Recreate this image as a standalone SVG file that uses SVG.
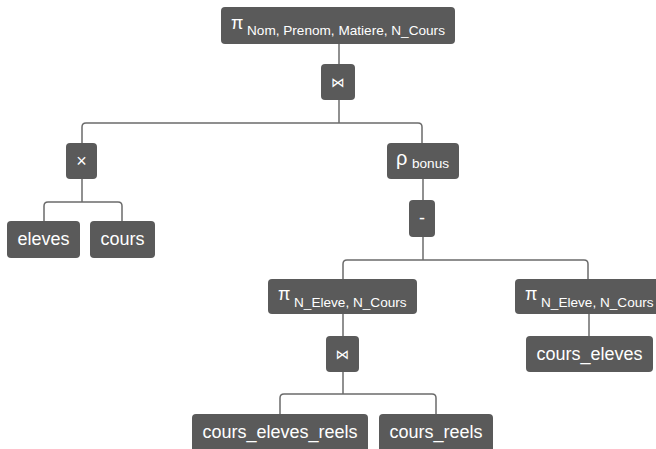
<svg xmlns="http://www.w3.org/2000/svg" width="656" height="449" viewBox="0 0 656 449">
  <style>
    .box { fill: #5a5a5a; }
    .lbl { fill: #ffffff; font-family: "Liberation Sans", Arial, sans-serif; font-size: 18px; }
    .mid { text-anchor: middle; }
    .op { fill: #ffffff; font-family: "Liberation Sans", Arial, sans-serif; font-size: 18px; }
    .sub { font-size: 13.6px; }
    .sym { fill: #ffffff; font-family: "DejaVu Sans", sans-serif; font-size: 13.5px; text-anchor: middle; }
    .edge { fill: none; stroke: #6b6b6b; stroke-width: 1.5; }
  </style>

  <!-- connectors -->
  <g id="edges">
    <path class="edge" d="M339,44 V64"/>
    <path class="edge" d="M339,100 V123"/>
    <path class="edge" d="M82,143 V127 Q82,123 86,123 H418 Q422,123 422,127 V143"/>
    <path class="edge" d="M82,179 V202"/>
    <path class="edge" d="M44,221 V206 Q44,202 48,202 H118 Q122,202 122,206 V221"/>
    <path class="edge" d="M423,179 V200"/>
    <path class="edge" d="M423,237 V260"/>
    <path class="edge" d="M343,279 V264 Q343,260 347,260 H584 Q588,260 588,264 V279"/>
    <path class="edge" d="M343,314 V336"/>
    <path class="edge" d="M589,314 V336"/>
    <path class="edge" d="M343,372 V394"/>
    <path class="edge" d="M280,414 V398 Q280,394 284,394 H432 Q436,394 436,398 V414"/>
  </g>

  <!-- projection on Nom, Prenom, Matiere, N_Cours -->
  <g id="proj_top">
    <rect class="box" x="221" y="7" width="234" height="37" rx="4"/>
    <text class="op" x="231" y="29">π<tspan class="sub" x="247" y="35">Nom, Prenom, Matiere, N_Cours</tspan></text>
  </g>

  <!-- natural join -->
  <g id="join_top">
    <rect class="box" x="321" y="64" width="34" height="36" rx="4"/>
    <text class="sym" x="338" y="87">⋈</text>
  </g>

  <!-- cartesian product -->
  <g id="product">
    <rect class="box" x="66" y="143" width="31" height="36" rx="4"/>
    <text class="lbl mid" x="81.5" y="167">×</text>
  </g>

  <!-- rename to bonus -->
  <g id="rename">
    <rect class="box" x="387" y="143" width="72" height="36" rx="4"/>
    <text class="op" x="396" y="165" style="font-size:20px">ρ<tspan class="sub" x="412" y="168">bonus</tspan></text>
  </g>

  <g id="eleves">
    <rect class="box" x="7" y="221" width="73" height="37" rx="4"/>
    <text class="lbl mid" x="43.5" y="245">eleves</text>
  </g>

  <g id="cours">
    <rect class="box" x="90" y="221" width="65" height="37" rx="4"/>
    <text class="lbl mid" x="122.5" y="245">cours</text>
  </g>

  <!-- difference -->
  <g id="minus">
    <rect class="box" x="409" y="200" width="26" height="37" rx="4"/>
    <text class="lbl mid" x="422" y="224">-</text>
  </g>

  <g id="proj_left">
    <rect class="box" x="268" y="279" width="149" height="35" rx="4"/>
    <text class="op" x="278" y="300">π<tspan class="sub" x="294" y="307">N_Eleve, N_Cours</tspan></text>
  </g>

  <g id="proj_right">
    <rect class="box" x="515" y="279" width="150" height="35" rx="4"/>
    <text class="op" x="525" y="300">π<tspan class="sub" x="541" y="307">N_Eleve, N_Cours</tspan></text>
  </g>

  <g id="join_bottom">
    <rect class="box" x="326" y="336" width="33" height="36" rx="4"/>
    <text class="sym" x="342.5" y="359">⋈</text>
  </g>

  <g id="cours_eleves">
    <rect class="box" x="526" y="336" width="127" height="36" rx="4"/>
    <text class="lbl mid" x="589.5" y="360">cours_eleves</text>
  </g>

  <g id="cours_eleves_reels">
    <rect class="box" x="192" y="414" width="176" height="38" rx="4"/>
    <text class="lbl mid" x="280" y="438">cours_eleves_reels</text>
  </g>

  <g id="cours_reels">
    <rect class="box" x="379" y="414" width="114" height="38" rx="4"/>
    <text class="lbl mid" x="436" y="438">cours_reels</text>
  </g>
</svg>
